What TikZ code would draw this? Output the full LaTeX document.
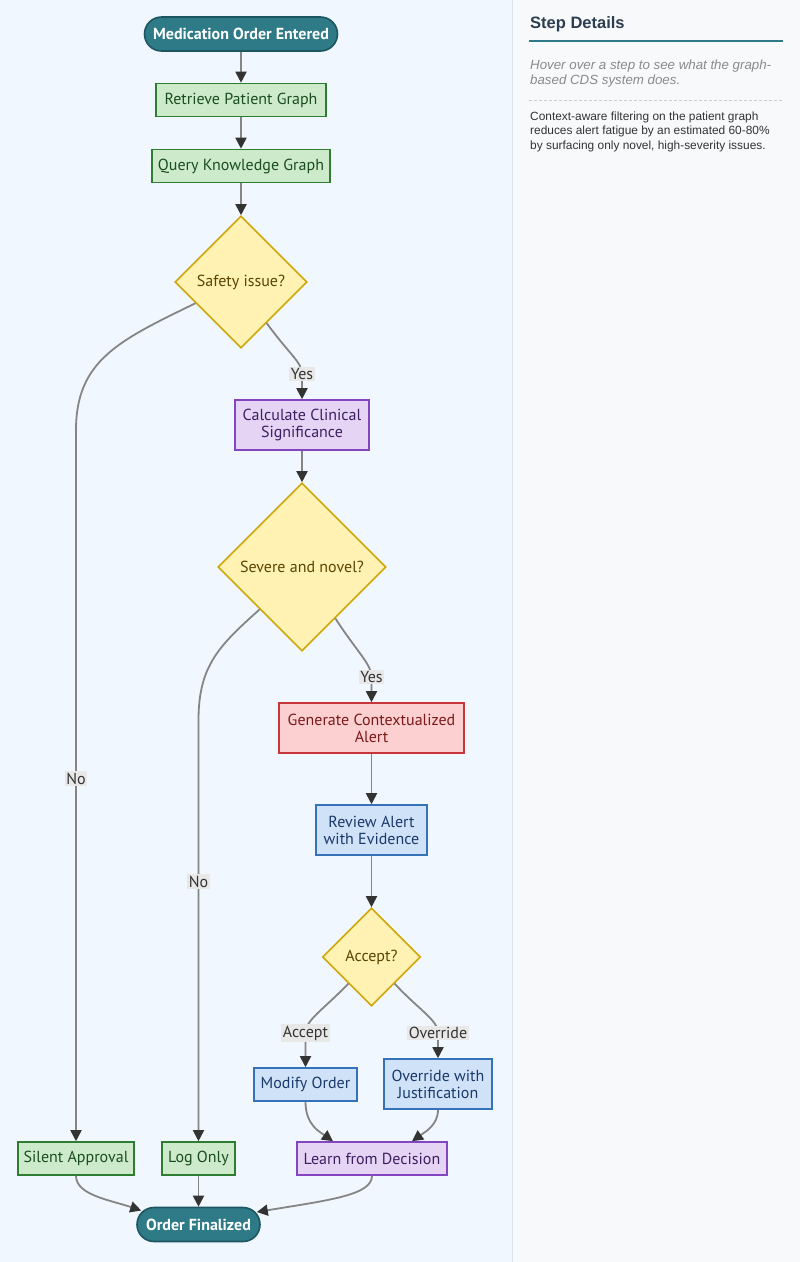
\documentclass[tikz,border=0pt]{standalone}
\usepackage{fontspec}
\setmainfont{PT Sans}
\newfontfamily\panelfont{Liberation Sans}
\usetikzlibrary{arrows.meta,shapes.geometric,shapes.misc,calc}
\definecolor{bgL}{HTML}{F0F7FE}
\definecolor{panelbg}{HTML}{F8F9FB}
\definecolor{panelline}{HTML}{DDE3EA}
\definecolor{tealf}{HTML}{2E7B87}
\definecolor{teald}{HTML}{1D5660}
\definecolor{gfill}{HTML}{CDEBCB}
\definecolor{gdraw}{HTML}{2E7D32}
\definecolor{gtext}{HTML}{1B4D1E}
\definecolor{pfill}{HTML}{E5D4F3}
\definecolor{pdraw}{HTML}{8446C0}
\definecolor{ptext}{HTML}{3F1F63}
\definecolor{yfill}{HTML}{FFF2B3}
\definecolor{ydraw}{HTML}{CFA70A}
\definecolor{ytext}{HTML}{5A4500}
\definecolor{rfill}{HTML}{FCD0D0}
\definecolor{rdraw}{HTML}{C8363A}
\definecolor{rtext}{HTML}{7B1A1A}
\definecolor{bfill}{HTML}{D0E2F8}
\definecolor{bdraw}{HTML}{3572B8}
\definecolor{btext}{HTML}{1A3A6B}
\definecolor{edgegray}{HTML}{858585}
\definecolor{arrowdark}{HTML}{333333}
\definecolor{lblgray}{HTML}{E8E8E8}
\definecolor{lbltext}{HTML}{333333}
\definecolor{navy}{HTML}{2C3E50}
\definecolor{hovergray}{HTML}{8A8A8A}
\definecolor{dashgray}{HTML}{C8CDD2}
\definecolor{bodytext}{HTML}{333333}
\newcommand{\flowfont}{\fontsize{16}{17}\selectfont}
\begin{document}
\begin{tikzpicture}[x=1pt,y=-1pt,
  box/.style={rectangle, draw, line width=1.6pt, inner sep=2pt, align=center, font=\flowfont},
  term/.style={rounded rectangle, fill=tealf, draw=teald, line width=1.6pt, text=white,
    font=\flowfont\bfseries, minimum height=34pt, inner sep=2pt},
  gbox/.style={box, fill=gfill, draw=gdraw, text=gtext},
  pbox/.style={box, fill=pfill, draw=pdraw, text=ptext},
  rbox/.style={box, fill=rfill, draw=rdraw, text=rtext},
  bbox/.style={box, fill=bfill, draw=bdraw, text=btext},
  dec/.style={diamond, aspect=1, fill=yfill, draw=ydraw, line width=1.6pt, text=ytext,
    inner sep=0pt, font=\flowfont},
  edge/.style={draw=edgegray, line width=1.8pt,
    -{Triangle[length=11pt,width=11pt,color=arrowdark]}},
  lbl/.style={fill=lblgray, text=lbltext, inner sep=1.5pt, font=\flowfont}
]
\useasboundingbox (0,0) rectangle (800,1262);
\fill[bgL] (0,0) rectangle (512,1262);
\fill[panelbg] (512,0) rectangle (800,1262);
\draw[panelline, line width=1pt] (512.5,0) -- (512.5,1262);

% nodes
\node[term, minimum width=197pt] (start) at (241,34) {Medication Order Entered};
\node[gbox, minimum width=170pt, minimum height=33pt] (retrieve) at (241,100) {Retrieve Patient Graph};
\node[gbox, minimum width=178pt, minimum height=33pt] (query) at (241,166) {Query Knowledge Graph};
\node[dec, minimum width=132pt, minimum height=132pt] (safety) at (241,282) {Safety issue?};
\node[pbox, minimum width=134pt, minimum height=50pt] (calc) at (302,425) {Calculate Clinical\\Significance};
\node[dec, minimum width=168pt, minimum height=168pt] (severe) at (302,567) {Severe and novel?};
\node[rbox, minimum width=185pt, minimum height=50pt] (gen) at (371.5,728) {Generate Contextualized\\Alert};
\node[bbox, minimum width=111pt, minimum height=50pt] (review) at (371.5,830) {Review Alert\\with Evidence};
\node[dec, minimum width=98pt, minimum height=98pt] (accept) at (371.5,957) {Accept?};
\node[bbox, minimum width=103pt, minimum height=33pt] (modify) at (305.5,1084.5) {Modify Order};
\node[bbox, minimum width=108pt, minimum height=50pt] (override) at (438,1084) {Override with\\Justification};
\node[pbox, minimum width=150pt, minimum height=33pt] (learn) at (372,1158.5) {Learn from Decision};
\node[gbox, minimum width=116pt, minimum height=33pt] (silent) at (76,1158.5) {Silent Approval};
\node[gbox, minimum width=73pt, minimum height=33pt] (logonly) at (198.5,1158.5) {Log Only};
\node[term, minimum width=127pt] (final) at (198.5,1224.5) {Order Finalized};

% edges
\draw[edge] (start) -- (retrieve);
\draw[edge] (retrieve) -- (query);
\draw[edge] (query) -- (safety);
\draw[edge] (safety.302) .. controls (289,354) and (302,362) .. (302,374)
  -- node[lbl,pos=0]{Yes} (calc.north);
\draw[edge] (safety.205) .. controls (120,340) and (76,360) .. (76,430)
  -- node[lbl,pos=0.49]{No} (silent.north);
\draw[edge] (calc) -- (severe);
\draw[edge] (severe.303) .. controls (357,652) and (371.5,664) .. (371.5,677)
  -- node[lbl,pos=0]{Yes} (gen.north);
\draw[edge] (severe.south west) .. controls (220,645) and (198.5,665) .. (198.5,720)
  -- node[lbl,pos=0.384]{No} (logonly.north);
\draw[edge] (gen) -- (review);
\draw[edge] (review) -- (accept);
\draw[edge] (accept.229) .. controls (323,1010) and (305.5,1020) .. (305.5,1033)
  -- node[lbl,pos=0]{Accept} (modify.north);
\draw[edge] (accept.311) .. controls (419,1010) and (438,1020) .. (438,1033)
  -- node[lbl,pos=0]{Override} (override.north);
\draw[edge] (modify.south) .. controls (305.5,1125) and (320,1132) .. ($(learn.north)+(-39,0)$);
\draw[edge] (override.south) .. controls (438,1125) and (425,1132) .. ($(learn.north)+(40,0)$);
\draw[edge] (silent.south) .. controls (76,1195) and (110,1200) .. ($(final.west)+(5,-14)$);
\draw[edge] (logonly) -- (final);
\draw[edge] (learn.south) .. controls (372,1195) and (330,1200) .. ($(final.east)+(-4,-12.5)$);

% side panel
\node[anchor=west, inner sep=0pt, font=\panelfont\bfseries\fontsize{16.5}{20}\selectfont, text=navy] (title) at (530,24) {Step Details};
\draw[tealf, line width=2pt] (529,41) -- (783,41);
\node[anchor=north west, inner sep=0pt, align=left, font=\panelfont\itshape\fontsize{13.3}{15.5}\selectfont, text=hovergray] (hover) at (530,59.5) {Hover over a step to see what the graph-\\based CDS system does.};
\draw[dashgray, line width=0.8pt, dash pattern=on 3pt off 2pt] (529,100) -- (783,100);
\node[anchor=north west, inner sep=0pt, align=left, font=\panelfont\fontsize{11.9}{14.5}\selectfont, text=bodytext] (info) at (530,111.5) {Context-aware filtering on the patient graph\\reduces alert fatigue by an estimated 60-80\%\\by surfacing only novel, high-severity issues.};
\end{tikzpicture}
\end{document}
